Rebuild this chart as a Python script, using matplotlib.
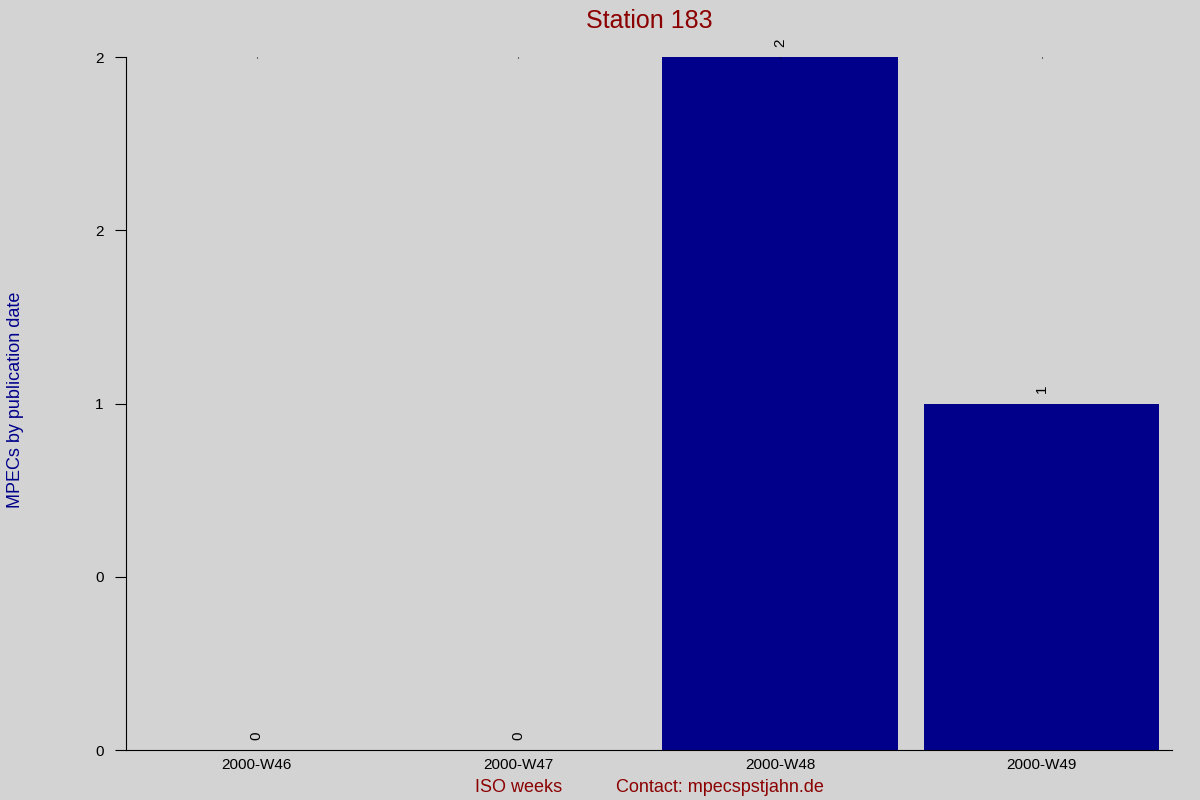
import matplotlib.pyplot as plt

plt.rcParams['font.family'] = ['Liberation Sans', 'DejaVu Sans']

weeks = ['2000-W46', '2000-W47', '2000-W48', '2000-W49']
counts = [0, 0, 2, 1]
yticks = [0, 0.5, 1, 1.5, 2]

bg = '#d3d3d3'
fig = plt.figure(figsize=(12, 8), dpi=100, facecolor=bg)
ax = fig.add_axes([0.105, 0.0625, 0.872, 0.866], facecolor=bg)

x = range(len(weeks))
ax.bar(x, counts, width=0.9, color='#00008b')
for i, v in zip(x, counts):
    ax.text(i, v + 0.03, str(v), rotation=90, ha='center', va='bottom', fontsize=11)

ax.set_xlim(-0.5, 3.5)
ax.set_ylim(0, 2)
ax.set_xticks(list(x))
ax.set_xticklabels(weeks, fontsize=11)
ax.set_yticks(yticks)
ax.set_yticklabels(['{:.0f}'.format(t) for t in yticks], fontsize=11)
ax.tick_params(axis='x', bottom=False, top=True, length=1, direction='in', pad=6)
ax.tick_params(axis='y', length=8, pad=8)

for s in ['top', 'right']:
    ax.spines[s].set_visible(False)

ax.set_title('Station 183', color='#8b0000', fontsize=18, pad=21)
fig.text(0.013, 0.5, 'MPECs by publication date', rotation=90, va='center', ha='center',
         color='#00008b', fontsize=13)
fig.text(0.432, 0.016, 'ISO weeks', ha='center', va='center', color='#8b0000', fontsize=13)
fig.text(0.6, 0.016, 'Contact: mpecspstjahn.de', ha='center', va='center', color='#8b0000', fontsize=13)

fig.savefig('out.png', dpi=100, facecolor=bg)
